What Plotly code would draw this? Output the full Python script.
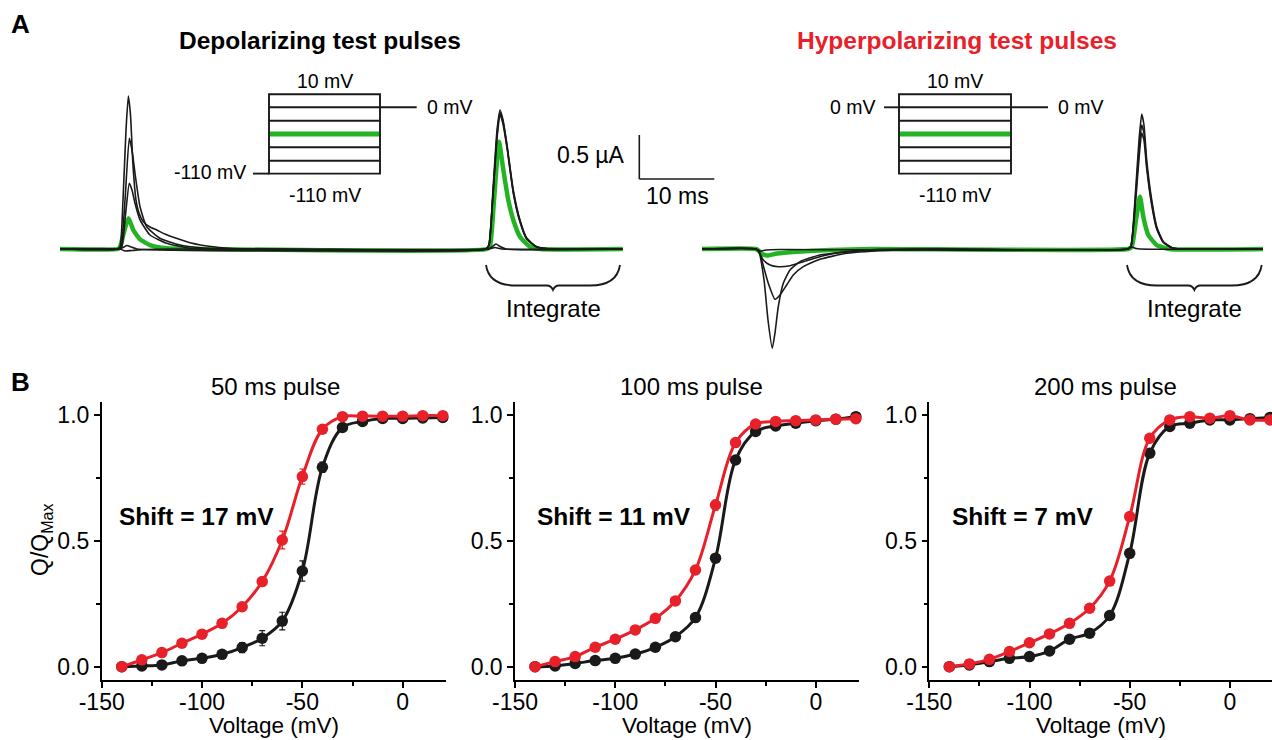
import plotly.graph_objects as go

FONT = "Liberation Sans, Arial, Helvetica, sans-serif"
BLACK = "#1a1a1a"
RED = "#e8202a"
GREEN = "#22b422"

W, H = 1272, 740

# ---------------- Panel B data (Q/Qmax vs voltage) ----------------
voltage_mV = [-140, -130, -120, -110, -100, -90, -80, -70, -60, -50, -40, -30, -20, -10, 0, 10, 20]

q_dep_50 = [0.0, 0.003, 0.007, 0.023, 0.033, 0.049, 0.076, 0.113, 0.181, 0.38, 0.792, 0.95, 0.974, 0.986, 0.986, 0.988, 0.99]
q_hyp_50 = [0.0, 0.027, 0.056, 0.093, 0.129, 0.172, 0.238, 0.338, 0.503, 0.755, 0.943, 0.993, 0.995, 0.995, 0.995, 0.997, 0.997]
e_dep_50 = [0, 0, 0.004, 0.005, 0.006, 0.01, 0.02, 0.03, 0.035, 0.04, 0.02, 0.01, 0.005, 0, 0, 0, 0]
e_hyp_50 = [0, 0, 0, 0.005, 0.005, 0.008, 0.01, 0.015, 0.035, 0.03, 0.01, 0.005, 0, 0, 0, 0, 0]

q_dep_100 = [0.0, 0.003, 0.013, 0.024, 0.033, 0.05, 0.077, 0.119, 0.195, 0.431, 0.821, 0.934, 0.956, 0.967, 0.977, 0.983, 0.993]
q_hyp_100 = [0.0, 0.02, 0.04, 0.077, 0.109, 0.146, 0.192, 0.261, 0.384, 0.642, 0.89, 0.964, 0.974, 0.977, 0.98, 0.983, 0.985]
e_dep_100 = [0, 0, 0, 0, 0, 0, 0, 0.005, 0.008, 0.01, 0.008, 0, 0, 0, 0, 0, 0]
e_hyp_100 = [0, 0, 0, 0, 0, 0, 0, 0.005, 0.01, 0.02, 0.008, 0, 0, 0, 0, 0, 0]

q_dep_200 = [0.0, 0.007, 0.02, 0.033, 0.04, 0.062, 0.109, 0.133, 0.203, 0.45, 0.848, 0.954, 0.967, 0.98, 0.98, 0.985, 0.99]
q_hyp_200 = [0.0, 0.011, 0.029, 0.06, 0.095, 0.13, 0.172, 0.232, 0.34, 0.596, 0.907, 0.98, 0.993, 0.987, 0.997, 0.98, 0.98]

panel_titles = ["50 ms pulse", "100 ms pulse", "200 ms pulse"]
shift_labels = ["Shift = 17 mV", "Shift = 11 mV", "Shift = 7 mV"]
x_tickvals = [-150, -100, -50, 0]
x_ticktext = ["-150", "-100", "-50", "0"]
y_tickvals = [0.0, 0.5, 1.0]
y_ticktext = ["0.0", "0.5", "1.0"]

# ---------------- Panel A data (currents: time ms, current uA) ----------------
# depolarizing test pulses
dep_t_1 = [0, 7.6, 8.0, 8.4, 8.8, 9.11, 9.4, 9.73, 10.13, 10.53, 11.11, 12.0, 12.89, 14.0, 15.11, 17.33, 20.44, 24.0, 32.0,
           56.8, 57.2, 57.73, 58.27, 58.67, 59.07, 59.56, 60.44, 61.33, 62.23, 63.56, 65.33, 75.03]
dep_i_1 = [0, 0, 0.023, 0.557, 1.352, 1.739, 1.523, 0.955, 0.557, 0.409, 0.31, 0.25, 0.216, 0.17, 0.133, 0.072, 0.026, 0.003, 0,
           0, 0.045, 0.67, 1.352, 1.58, 1.466, 1.205, 0.67, 0.33, 0.125, 0.026, 0, 0]
dep_t_2 = [0, 7.73, 8.13, 8.67, 9.24, 9.6, 10.0, 10.67, 11.56, 13.33, 16.0, 19.56, 24.0,
           56.8, 57.2, 57.73, 58.27, 58.67, 59.07, 59.6, 60.44, 61.33, 62.23, 63.56, 65.33, 75.03]
dep_i_2 = [0, 0, 0.023, 0.557, 1.258, 1.122, 0.86, 0.48, 0.253, 0.122, 0.045, 0.008, 0,
           0, 0.045, 0.614, 1.295, 1.557, 1.443, 1.17, 0.645, 0.318, 0.114, 0.023, 0, 0]
dep_t_3 = [0, 7.73, 8.23, 8.73, 9.24, 9.6, 10.0, 10.67, 12.0, 14.23, 17.33, 22.67,
           56.8, 57.2, 57.73, 58.27, 58.67, 59.07, 59.6, 60.44, 61.33, 62.23, 63.56, 65.33, 75.03]
dep_i_3 = [0, 0, 0.023, 0.386, 0.746, 0.67, 0.52, 0.33, 0.159, 0.065, 0.008, 0,
           0, 0.045, 0.614, 1.261, 1.534, 1.42, 1.148, 0.636, 0.307, 0.114, 0.023, 0, 0]
dep_t_5 = [0, 8.0, 8.53, 8.93, 9.47, 10.27, 57.07, 57.6, 58.13, 58.67, 59.47, 75.03]
dep_i_5 = [0, 0, 0.023, 0.04, 0.023, 0, 0, 0.023, 0.057, 0.028, 0, 0]
dep_t_6 = [0, 8.0, 8.67, 9.6, 11.33, 14.67, 57.07, 58.0, 58.93, 75.03]
dep_i_6 = [0, 0, -0.023, -0.017, -0.006, 0, 0, 0.017, 0, 0]
dep_t_green = [0, 7.73, 8.0, 8.53, 9.11, 9.47, 9.77, 10.67, 12.0, 14.23, 18.67,
               56.93, 57.33, 57.87, 58.53, 59.11, 59.77, 60.44, 61.33, 62.67, 64.0, 75.03]
dep_i_green = [0, 0, 0.023, 0.193, 0.349, 0.284, 0.216, 0.11, 0.045, 0.008, 0,
               0, 0.034, 0.557, 1.219, 0.898, 0.557, 0.33, 0.14, 0.026, 0, 0]

# hyperpolarizing test pulses
hyp_t_1 = [0, 7.2, 7.6, 8.27, 8.8, 9.37, 9.73, 10.17, 10.84, 11.73, 13.07, 15.73, 21.51, 30.4,
           56.8, 57.2, 57.73, 58.27, 58.63, 58.93, 59.29, 59.96, 60.63, 61.51, 62.84, 65.07, 74.8]
hyp_i_1 = [0, 0, -0.034, -0.352, -0.807, -1.129, -0.955, -0.656, -0.39, -0.239, -0.144, -0.068, -0.019, 0,
           0, 0.034, 0.557, 1.239, 1.534, 1.409, 1.011, 0.557, 0.254, 0.083, 0.008, 0, 0]
hyp_t_2 = [0, 7.2, 7.6, 7.96, 8.84, 9.73, 10.4, 11.29, 12.17, 13.51, 15.73, 19.29, 25.96, 32.63,
           56.8, 57.2, 57.73, 58.27, 58.63, 58.93, 59.29, 59.96, 60.63, 61.51, 62.84, 65.07, 74.8]
hyp_i_2 = [0, 0, -0.023, -0.125, -0.39, -0.572, -0.523, -0.409, -0.295, -0.201, -0.117, -0.049, -0.011, 0,
           0, 0.034, 0.5, 1.125, 1.409, 1.318, 0.955, 0.523, 0.239, 0.08, 0.008, 0, 0]
hyp_t_3 = [0, 7.2, 7.6, 8.17, 9.07, 10.17, 11.73, 13.96, 16.17, 19.29, 23.73, 29.07,
           56.8, 57.2, 57.73, 58.27, 58.63, 58.93, 59.29, 59.96, 60.63, 61.51, 62.84, 65.07, 74.8]
hyp_i_3 = [0, 0, -0.034, -0.125, -0.182, -0.201, -0.19, -0.133, -0.076, -0.03, -0.003, 0,
           0, 0.034, 0.443, 1.034, 1.318, 1.239, 0.92, 0.5, 0.227, 0.074, 0.008, 0, 0]
hyp_t_5 = [0, 7.2, 7.73, 8.53, 10.4, 56.8, 57.33, 57.87, 58.4, 74.8]
hyp_i_5 = [0, 0, -0.023, -0.011, -0.006, 0, 0.023, 0.006, 0, 0]
hyp_t_green = [0, 7.2, 7.6, 8.0, 8.67, 10.0, 12.67, 17.07, 22.4, 56.8, 57.29, 57.87, 58.4, 58.84, 59.51, 60.63, 62.4, 74.8]
hyp_i_green = [0, 0, -0.023, -0.057, -0.074, -0.051, -0.031, -0.011, 0, 0, 0.023, 0.33, 0.594, 0.367, 0.159, 0.045, 0, 0]

scale_bar_ms = 10
scale_bar_uA = 0.5


def PX(x):
    return x / W


def PY(y):
    return 1 - y / H


fig = go.Figure()

# ---------------- Panel A traces ----------------
RIGHT_OFFSET = 85.6  # ms shift of the right-hand set on the shared time axis


def add_trace(t, i, color, width, offset=0.0):
    fig.add_trace(go.Scatter(
        x=[v + offset for v in t], y=i, xaxis="x4", yaxis="y4", mode="lines",
        line=dict(color=color, width=width, shape="spline", smoothing=0.5),
        hoverinfo="skip", showlegend=False))


add_trace(dep_t_green, dep_i_green, GREEN, 4.5)
for t, i in [(dep_t_1, dep_i_1), (dep_t_2, dep_i_2), (dep_t_3, dep_i_3), (dep_t_5, dep_i_5), (dep_t_6, dep_i_6)]:
    add_trace(t, i, BLACK, 1.6)
add_trace(hyp_t_green, hyp_i_green, GREEN, 4.5, RIGHT_OFFSET)
for t, i in [(hyp_t_1, hyp_i_1), (hyp_t_2, hyp_i_2), (hyp_t_3, hyp_i_3), (hyp_t_5, hyp_i_5)]:
    add_trace(t, i, BLACK, 1.6, RIGHT_OFFSET)

# ---------------- Panel B ----------------
sets = [
    (q_dep_50, q_hyp_50, e_dep_50, e_hyp_50),
    (q_dep_100, q_hyp_100, e_dep_100, e_hyp_100),
    (q_dep_200, q_hyp_200, None, None),
]
for k, (qd, qh, ed, eh) in enumerate(sets):
    xa = "x" if k == 0 else "x%d" % (k + 1)
    ya = "y" if k == 0 else "y%d" % (k + 1)
    for q, e, col in [(qd, ed, BLACK), (qh, eh, RED)]:
        fig.add_trace(go.Scatter(
            x=voltage_mV, y=q, xaxis=xa, yaxis=ya, mode="lines+markers",
            line=dict(color=col, width=3, shape="spline", smoothing=1.0),
            marker=dict(color=col, size=11.5, line=dict(width=0)),
            error_y=(dict(type="data", array=e, color=col, thickness=1.2, width=3) if e else None),
            hoverinfo="skip", showlegend=False, cliponaxis=False))

# axes geometry (pixels)
x_doms_px = [(101.7, 446.0), (515.0, 859.3), (929.3, 1272.0)]
x_ranges = [[-150, 21.6], [-150, 21.7], [-150, 21.0]]
y_dom = [PY(680.0), PY(402.3)]
y_range = [-0.053, 1.05]

axis_font = dict(family=FONT, size=23, color="black")
layout_axes = {}
for k in range(3):
    xn = "xaxis" if k == 0 else "xaxis%d" % (k + 1)
    yn = "yaxis" if k == 0 else "yaxis%d" % (k + 1)
    xa = "x" if k == 0 else "x%d" % (k + 1)
    ya = "y" if k == 0 else "y%d" % (k + 1)
    layout_axes[xn] = dict(
        domain=[PX(x_doms_px[k][0]), PX(x_doms_px[k][1])], range=x_ranges[k], anchor=ya,
        showline=True, linecolor="black", linewidth=1.5, ticks="outside", ticklen=6, tickwidth=1.5,
        tickcolor="black", tickvals=x_tickvals, ticktext=x_ticktext, showgrid=False, zeroline=False,
        tickfont=axis_font, ticklabelstandoff=-5, automargin=False,
        minor=dict(tickvals=[-125, -75, -25], ticks="outside", ticklen=4, tickwidth=1.5, tickcolor="black", showgrid=False),
        fixedrange=True)
    layout_axes[yn] = dict(
        domain=y_dom, range=y_range, anchor=xa,
        showline=True, linecolor="black", linewidth=1.5, ticks="outside", ticklen=6, tickwidth=1.5,
        tickcolor="black", tickvals=y_tickvals, ticktext=y_ticktext, showgrid=False, zeroline=False,
        tickfont=axis_font, automargin=False,
        minor=dict(tickvals=[0.25, 0.75], ticks="outside", ticklen=4, tickwidth=1.5, tickcolor="black", showgrid=False),
        fixedrange=True)

# Panel A axes (hidden): 7.5 px per ms, 88 px per uA, baseline at y=249 px, t=0 at x=60 px
layout_axes["xaxis4"] = dict(domain=[0, 1], range=[-8, 161.6], visible=False, anchor="y4", fixedrange=True,
                             automargin=False)
layout_axes["yaxis4"] = dict(domain=[PY(365), PY(60)], range=[(249 - 365) / 88, (249 - 60) / 88],
                             visible=False, anchor="x4", fixedrange=True, automargin=False)

shapes = []
annotations = []


def ann(text, x, y, size, bold=False, color="black", xanchor="center", angle=0):
    if bold:
        text = "<b>%s</b>" % text
    annotations.append(dict(text=text, x=PX(x), y=PY(y), xref="paper", yref="paper", showarrow=False,
                            xanchor=xanchor, yanchor="middle", textangle=angle,
                            font=dict(family=FONT, size=size, color=color)))


def pline(x0, y0, x1, y1, color=BLACK, width=1.9):
    shapes.append(dict(type="line", xref="paper", yref="paper", x0=PX(x0), y0=PY(y0), x1=PX(x1), y1=PY(y1),
                       line=dict(color=color, width=width)))


# panel letters and titles
ann("A", 20, 24, 26, bold=True)
ann("B", 20, 382, 26, bold=True)
ann("Depolarizing test pulses", 320, 40, 24.5, bold=True)
ann("Hyperpolarizing test pulses", 957, 40, 24.5, bold=True, color=RED)

# voltage protocol insets
inset_lines_y = [107.3, 120.7, 147.3, 160.7]
for (rx0, rx1) in [(269, 380), (899, 1011)]:
    shapes.append(dict(type="rect", xref="paper", yref="paper", x0=PX(rx0), x1=PX(rx1), y0=PY(94.3), y1=PY(173.6),
                       line=dict(color=BLACK, width=1.9), fillcolor="rgba(0,0,0,0)"))
    for yy in inset_lines_y:
        pline(rx0, yy, rx1, yy)
    pline(rx0 + 1, 134, rx1 - 1, 134, color=GREEN, width=5)
    ann("10 mV", (rx0 + rx1) / 2, 81, 19.5)
    ann("-110 mV", (rx0 + rx1) / 2, 195, 19.5)

pline(380, 107.3, 416.7, 107.3)
pline(253, 173.6, 269, 173.6)
ann("0 mV", 425, 107, 19.5, xanchor="left")
ann("-110 mV", 248, 172, 19.5, xanchor="right")
pline(884, 107.3, 899, 107.3)
pline(1011, 107.3, 1048, 107.3)
ann("0 mV", 878, 107, 19.5, xanchor="right")
ann("0 mV", 1056, 107, 19.5, xanchor="left")

# scale bar in data units of the trace axes
sb_t0 = (639.3 - 60) / 7.5  # ms position of the bar corner
sb_i0 = (249 - 179) / 88
shapes.append(dict(type="line", xref="x4", yref="y4", x0=sb_t0, x1=sb_t0, y0=sb_i0, y1=sb_i0 + scale_bar_uA,
                   line=dict(color=BLACK, width=1.6)))
shapes.append(dict(type="line", xref="x4", yref="y4", x0=sb_t0, x1=sb_t0 + scale_bar_ms, y0=sb_i0, y1=sb_i0,
                   line=dict(color=BLACK, width=1.6)))
ann("%.1f µA" % scale_bar_uA, 627, 155, 23, xanchor="right")
ann("%d ms" % scale_bar_ms, 677, 196, 23)


# integration braces
def brace(x0, x1, ytop=265.0, ybot=285.5, ytip=290.0):
    xm = (x0 + x1) / 2
    pts = [("M", x0, ytop), ("Q", x0 + 3, ybot), ("", x0 + 30, ybot), ("L", xm - 6, ybot),
           ("Q", xm - 2, ybot), ("", xm, ytip), ("Q", xm + 2, ybot), ("", xm + 6, ybot),
           ("L", x1 - 30, ybot), ("Q", x1 - 3, ybot), ("", x1, ytop)]
    path = " ".join("%s%.5f,%.5f" % (c, PX(x), PY(y)) for c, x, y in pts)
    shapes.append(dict(type="path", path=path, xref="paper", yref="paper",
                       line=dict(color=BLACK, width=1.8)))
    ann("Integrate", xm, 308, 24)


brace(486, 620)
brace(1127, 1261.7)

# Panel B text
title_x = [275, 691.7, 1105]
shift_x = [117, 535, 950]
for k in range(3):
    ann(panel_titles[k], title_x[k], 386, 24)
    ann(shift_labels[k], shift_x[k], 516, 24.5, bold=True, xanchor="left")
    ann("Voltage (mV)", (x_doms_px[k][0] + x_doms_px[k][1]) / 2, 725.5, 22.5)
ann("Q/Q<sub>Max</sub>", 41, 540, 23, angle=-90)

fig.update_layout(
    width=W, height=H, margin=dict(l=0, r=0, t=0, b=0, pad=0, autoexpand=False),
    paper_bgcolor="white", plot_bgcolor="rgba(0,0,0,0)", showlegend=False,
    font=dict(family=FONT, color="black"),
    shapes=shapes, annotations=annotations, **layout_axes)

fig.write_html("out.html")
